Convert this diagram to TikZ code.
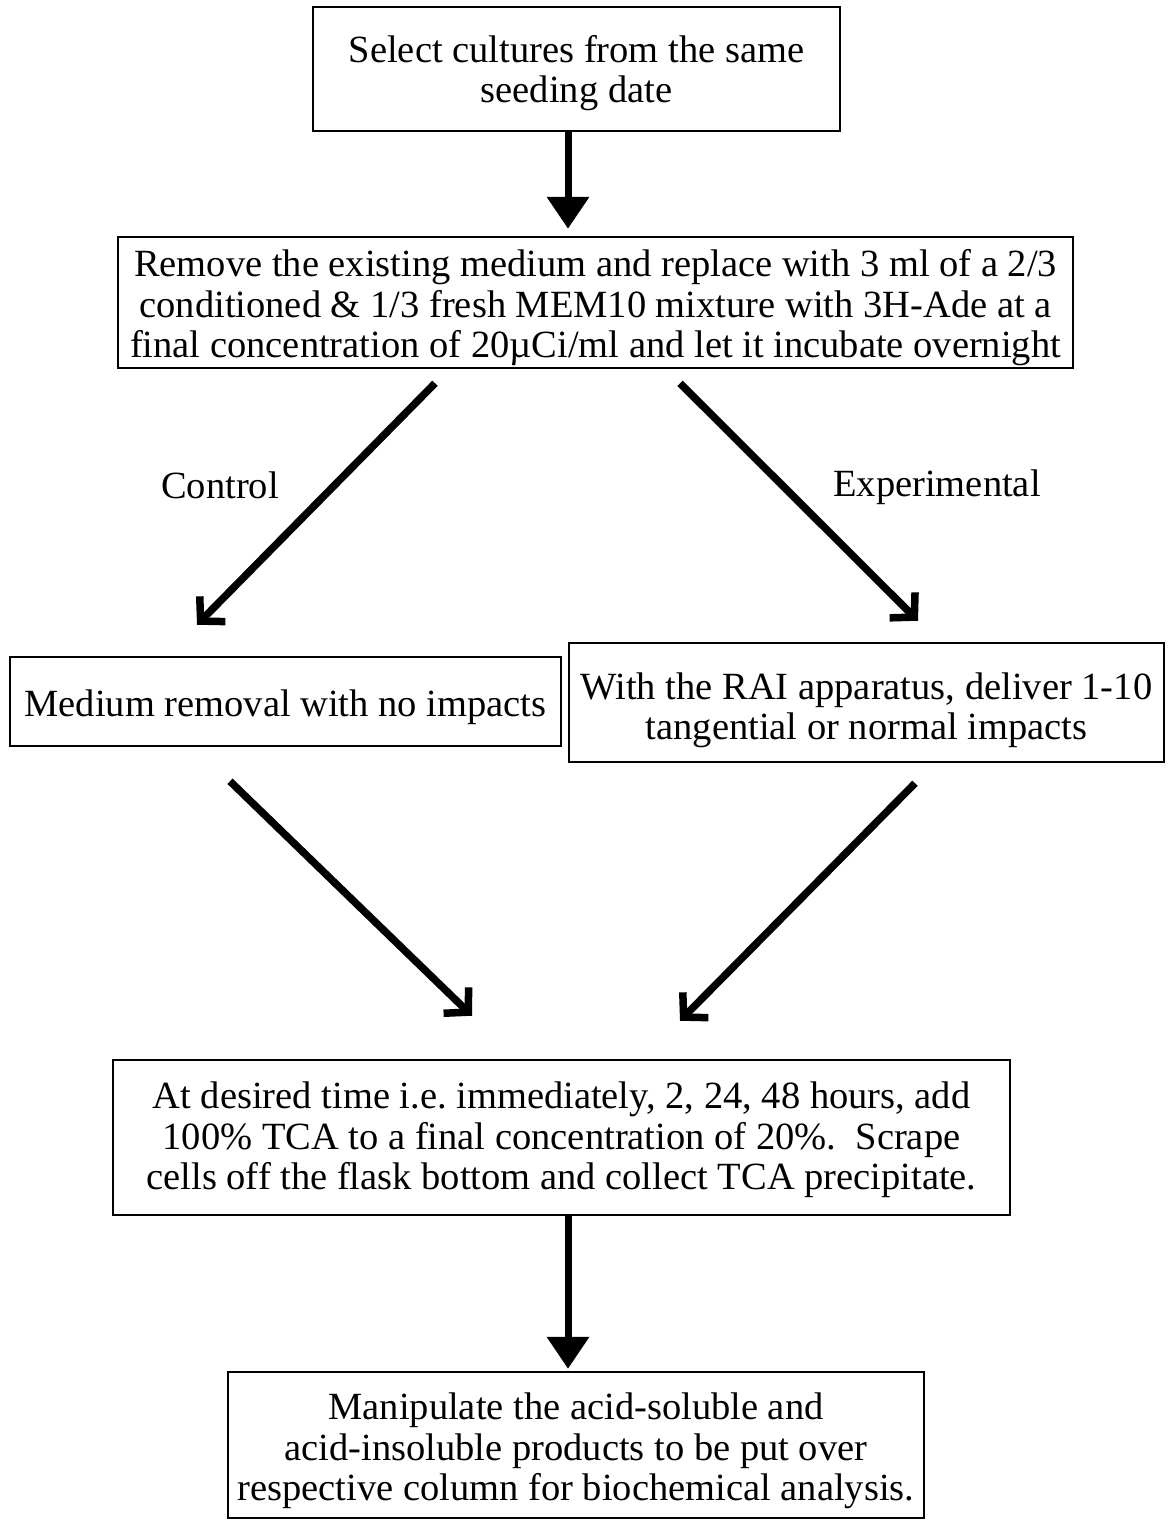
\documentclass[tikz,border=0pt]{standalone}
\usepackage{fontspec}
\setmainfont{Liberation Serif}
\usetikzlibrary{arrows.meta}
\frenchspacing

% lines of a box, lowered inside it without changing its size
\newcommand{\steptext}[2][6pt]{\raisebox{-#1}[\height][\depth]{\begin{tabular}{@{}c@{}}#2\end{tabular}}}

\begin{document}
\begin{tikzpicture}[x=1pt, y=-1pt]
  \tikzstyle{every node}=[font=\fontsize{38.5}{40.5}\selectfont]
  \tikzstyle{stepbox}=[draw, line width=2.5pt, align=center, inner sep=0pt]
  \tikzstyle{downarrow}=[line width=7pt, -{Triangle[length=32pt, width=41pt]}]
  \tikzstyle{slantarrow}=[line width=7.5pt, -{Straight Barb[length=17pt, width=36pt]}]
  \useasboundingbox (0, 0) rectangle (1167, 1520);

  \node[stepbox, minimum width=527pt, minimum height=124pt] (select) at (576.5, 69)
    {\steptext[5.5pt]{Select cultures from the same\\seeding date}};

  \node[stepbox, minimum width=955pt, minimum height=131pt] (remove) at (595.5, 302.5)
    {\steptext[6.5pt]{\fontsize{38.5}{38.5}\selectfont
     Remove the existing medium and replace with 3 ml of a 2/3\\
     conditioned \& 1/3 fresh MEM10 mixture with 3H-Ade at a\\
     final concentration of 20µCi/ml and let it incubate overnight}};

  \node[stepbox, minimum width=551pt, minimum height=89pt] (noimpact) at (285.5, 701.5)
    {\steptext[7pt]{Medium removal with no impacts}};

  \node[stepbox, minimum width=595pt, minimum height=119pt] (impact) at (866.5, 702.5)
    {\steptext[9pt]{With the RAI apparatus, deliver 1-10\\tangential or normal impacts}};

  \node[stepbox, minimum width=897pt, minimum height=155pt] (tca) at (561.5, 1137.5)
    {\steptext[3.5pt]{At desired time i.e. immediately, 2, 24, 48 hours, add\\
     100\% TCA to a final concentration of 20\%.~ Scrape\\
     cells off the flask bottom and collect TCA precipitate.}};

  \node[stepbox, minimum width=696pt, minimum height=146pt] (analysis) at (576, 1445)
    {\steptext[7pt]{\fontsize{38.5}{39.5}\selectfont
     Manipulate the acid-soluble and\\
     acid-insoluble products to be put over\\
     respective column for biochemical analysis.}};

  \node (control) at (220, 485) {Control};
  \node (exper) at (937, 487) {Experimental};

  \draw[downarrow] ([xshift=-8.5pt]select.south) -- ([xshift=-27.5pt, yshift=7pt]remove.north);

  \draw[slantarrow] ([xshift=-160.5pt, yshift=-14pt]remove.south)
    -- ([xshift=-88.5pt, yshift=31pt]noimpact.north);
  \draw[slantarrow] ([xshift=84.5pt, yshift=-14pt]remove.south)
    -- ([xshift=51.5pt, yshift=21pt]impact.north);

  \draw[slantarrow] ([xshift=-55.5pt, yshift=-34pt]noimpact.south)
    -- ([xshift=-89.5pt, yshift=43pt]tca.north);
  \draw[slantarrow] ([xshift=48.5pt, yshift=-20pt]impact.south)
    -- ([xshift=118.5pt, yshift=38pt]tca.north);

  \draw[downarrow] ([xshift=6.5pt]tca.south) -- ([xshift=-8pt, yshift=2pt]analysis.north);

\end{tikzpicture}
\end{document}
